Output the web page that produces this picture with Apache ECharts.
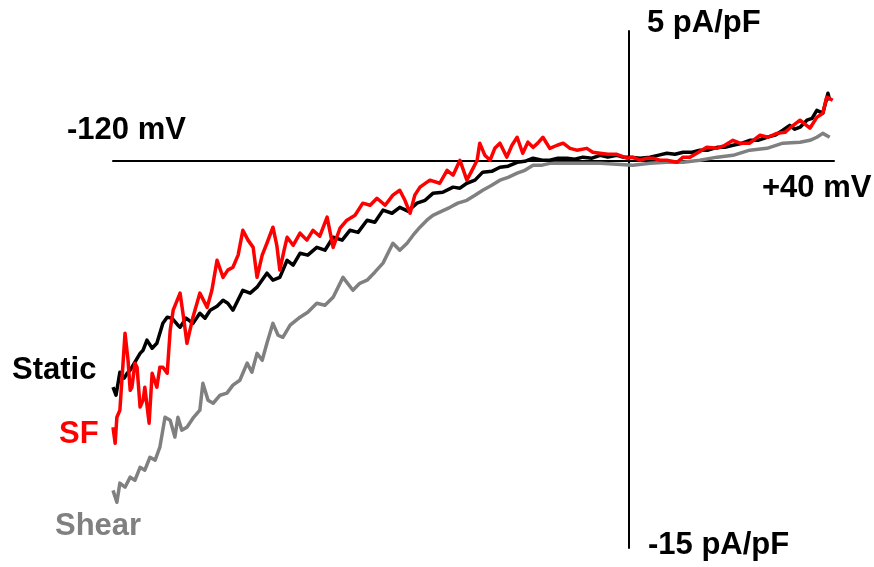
<!DOCTYPE html>
<html>
<head>
<meta charset="utf-8">
<script src="https://cdn.jsdelivr.net/npm/echarts@6/dist/echarts.min.js"></script>
<style>
  html, body { margin: 0; padding: 0; background: #fff; }
  #chart { width: 874px; height: 567px; }
</style>
</head>
<body>
<div id="chart"></div>
<script>
// Voltage (mV) and current density (pA/pF)
const staticV = [-120.0,-119.3,-118.4,-117.4,-116.7,-116.0,-114.9,-113.7,-113.0,-112.1,-110.9,-109.8,-108.4,-107.4,-106.3,-104.9,-104.4,-103.0,-101.4,-99.8,-98.6,-97.4,-95.8,-94.4,-93.3,-92.1,-89.8,-88.1,-86.5,-84.2,-82.8,-81.2,-79.5,-78.1,-76.5,-74.7,-72.6,-70.7,-68.8,-66.7,-64.9,-63.0,-60.9,-59.1,-57.2,-55.1,-53.3,-51.4,-49.3,-47.4,-45.6,-43.3,-40.9,-39.3,-37.7,-35.8,-34.0,-31.9,-30.0,-28.1,-26.0,-24.2,-22.3,-20.2,-18.4,-16.5,-14.4,-12.6,-10.7,-8.6,-6.7,-4.9,-2.8,-1.4,0.2,2.6,4.9,6.7,8.8,10.7,12.6,14.7,16.5,18.4,20.5,22.3,24.2,26.3,28.1,30.0,32.1,34.0,35.8,37.4,38.6,39.8,41.4,42.6,43.7,45.1,46.3,46.7];
const staticI = [-8.78,-9.09,-8.20,-8.43,-8.24,-8.12,-7.81,-7.47,-7.35,-6.96,-7.27,-7.08,-6.31,-6.07,-6.11,-6.38,-6.46,-6.11,-6.31,-5.92,-6.11,-5.80,-5.65,-5.42,-5.53,-5.80,-5.03,-5.14,-4.91,-4.37,-4.64,-4.53,-3.87,-4.06,-3.60,-3.67,-3.37,-3.48,-2.98,-3.09,-2.71,-2.79,-2.32,-2.40,-1.93,-2.05,-1.82,-1.97,-1.66,-1.55,-1.28,-1.24,-1.04,-1.08,-0.89,-0.77,-0.46,-0.43,-0.27,-0.23,-0.08,-0.04,0.08,0.00,0.00,0.08,0.08,0.04,0.12,0.08,0.19,0.12,0.19,0.12,0.12,0.08,0.12,0.19,0.27,0.23,0.31,0.31,0.39,0.39,0.50,0.50,0.58,0.66,0.77,0.77,0.89,0.97,1.16,1.35,1.20,1.28,1.55,1.62,1.93,1.82,2.59,2.32];

const sfV = [-120.0,-119.5,-119.1,-118.4,-117.2,-116.5,-116.0,-115.6,-114.9,-114.4,-113.7,-113.0,-112.6,-111.6,-110.9,-109.8,-109.1,-108.4,-107.4,-106.7,-106.0,-104.4,-103.5,-102.8,-101.4,-99.8,-98.1,-97.0,-95.8,-94.4,-93.3,-92.1,-90.9,-89.8,-88.6,-87.4,-86.5,-85.3,-84.2,-82.8,-81.9,-81.2,-80.2,-79.5,-78.1,-76.5,-74.9,-73.5,-71.9,-70.2,-68.8,-67.2,-65.6,-63.7,-61.9,-60.2,-58.6,-56.7,-54.9,-53.3,-52.1,-50.9,-49.8,-48.6,-46.3,-44.0,-42.3,-40.9,-39.3,-37.7,-36.5,-35.3,-34.7,-33.5,-32.3,-31.2,-30.0,-28.4,-27.2,-26.0,-24.7,-23.5,-22.3,-21.2,-20.0,-18.4,-16.7,-15.3,-13.7,-12.1,-9.8,-8.4,-6.7,-4.9,-2.8,-0.5,0.9,2.6,4.2,5.6,7.2,8.8,11.2,12.6,14.2,15.8,18.1,20.5,22.3,24.2,25.8,28.1,30.5,32.3,34.4,36.3,37.4,39.8,42.1,43.7,45.1,46.0,47.4];
const sfI = [-10.33,-10.95,-9.94,-9.67,-6.69,-7.74,-8.90,-8.78,-7.85,-8.01,-9.55,-9.28,-8.78,-10.17,-8.24,-8.78,-8.01,-8.01,-8.24,-6.58,-5.80,-5.14,-6.19,-7.08,-6.07,-5.14,-5.69,-5.03,-3.87,-4.53,-4.25,-4.14,-3.67,-2.71,-3.09,-3.37,-4.53,-3.67,-3.21,-2.59,-3.29,-4.25,-3.48,-2.98,-3.29,-2.82,-3.09,-2.71,-2.94,-2.20,-3.37,-2.63,-2.32,-2.13,-1.66,-1.74,-1.47,-1.74,-1.35,-1.16,-1.55,-2.05,-1.35,-1.04,-0.77,-0.89,-0.39,-0.58,0.00,-0.77,-0.39,0.00,0.66,0.19,0.00,0.46,0.66,0.12,0.58,0.89,0.27,0.70,0.50,0.66,0.89,0.46,0.58,0.66,0.46,0.39,0.46,0.31,0.27,0.23,0.23,0.08,0.12,0.00,0.08,0.08,0.00,0.00,-0.08,0.12,0.12,0.27,0.50,0.46,0.58,0.77,0.66,0.66,0.97,0.89,1.04,1.08,1.24,1.55,1.24,1.66,1.82,2.44,2.32];

const shearV = [-120.0,-119.1,-118.4,-117.2,-116.0,-114.9,-113.7,-112.6,-111.4,-110.2,-109.1,-107.9,-106.7,-105.6,-104.9,-104.0,-102.8,-101.4,-99.8,-99.1,-97.9,-96.7,-95.1,-93.5,-92.1,-90.5,-88.8,-87.7,-86.5,-85.3,-84.2,-82.8,-81.6,-80.5,-78.8,-76.5,-74.7,-72.6,-70.7,-68.8,-66.5,-64.2,-62.6,-60.9,-59.1,-57.2,-54.9,-53.3,-51.6,-50.2,-48.6,-47.0,-45.6,-44.0,-41.6,-39.8,-37.7,-35.8,-34.0,-31.9,-30.0,-28.1,-26.0,-24.2,-22.3,-20.2,-18.4,-14.4,-10.7,-6.7,-2.8,0.9,4.9,8.8,12.6,16.5,20.5,24.2,28.1,32.1,35.8,39.8,42.1,43.7,45.1,46.7];
const shearI = [-12.77,-13.23,-12.49,-12.65,-12.26,-12.38,-11.88,-11.99,-11.49,-11.60,-11.10,-9.94,-10.06,-10.71,-9.94,-10.44,-10.33,-9.98,-9.67,-8.63,-9.28,-9.40,-9.09,-9.01,-8.70,-8.51,-7.85,-8.20,-7.47,-7.74,-7.08,-6.31,-6.77,-6.85,-6.38,-6.07,-5.88,-5.53,-5.61,-5.30,-4.53,-5.03,-4.76,-4.64,-4.33,-3.98,-3.21,-3.48,-3.21,-2.90,-2.59,-2.32,-2.13,-2.01,-1.82,-1.66,-1.55,-1.35,-1.16,-0.97,-0.77,-0.66,-0.50,-0.39,-0.19,-0.19,-0.12,-0.12,-0.12,-0.12,-0.15,-0.19,-0.12,-0.08,-0.08,0.00,0.12,0.19,0.39,0.46,0.66,0.70,0.77,0.89,1.04,0.89];

const seriesNames = ['Static', 'SF', 'Shear'];
const seriesColors = ['#000000', '#ff0000', '#808080'];

const xMin = -120, xMax = 47.7;
const yMin = -15, yMax = 5;

function pairs(xs, ys) { return xs.map((x, i) => [x, ys[i]]); }

const chart = echarts.init(document.getElementById('chart'), null, { renderer: 'canvas' });
const font = 'bold 31px "Liberation Sans", Arial, sans-serif';

function label(text, x, y, color) {
  return { type: 'text', x: x, y: y, z: 10,
    style: { text: text, font: font, fill: color, align: 'left', verticalAlign: 'middle' } };
}

chart.setOption({
  animation: false,
  backgroundColor: '#ffffff',
  grid: { left: 113, right: 40, top: 31, bottom: 19 },
  xAxis: {
    type: 'value', min: xMin, max: xMax,
    axisLine: { show: true, onZero: true, lineStyle: { color: '#000', width: 2 } },
    axisTick: { show: false }, axisLabel: { show: false }, splitLine: { show: false }
  },
  yAxis: {
    type: 'value', min: yMin, max: yMax,
    axisLine: { show: true, onZero: true, lineStyle: { color: '#000', width: 2 } },
    axisTick: { show: false }, axisLabel: { show: false }, splitLine: { show: false }
  },
  series: [
    { name: seriesNames[2], type: 'line', data: pairs(shearV, shearI), showSymbol: false, lineStyle: { color: seriesColors[2], width: 3.5, join: 'round' }, z: 2 },
    { name: seriesNames[0], type: 'line', data: pairs(staticV, staticI), showSymbol: false, lineStyle: { color: seriesColors[0], width: 3.5, join: 'round' }, z: 3 },
    { name: seriesNames[1], type: 'line', data: pairs(sfV, sfI), showSymbol: false, lineStyle: { color: seriesColors[1], width: 3.5, join: 'round' }, z: 4 }
  ],
  graphic: [
    label('-120 mV', 67, 130, '#000'),
    label('5 pA/pF', 647, 23, '#000'),
    label('+40 mV', 762, 188, '#000'),
    label('-15 pA/pF', 648, 545, '#000'),
    label(seriesNames[0], 12, 370, seriesColors[0]),
    label(seriesNames[1], 59, 434, seriesColors[1]),
    label(seriesNames[2], 55, 526, seriesColors[2])
  ]
});
</script>
</body>
</html>
